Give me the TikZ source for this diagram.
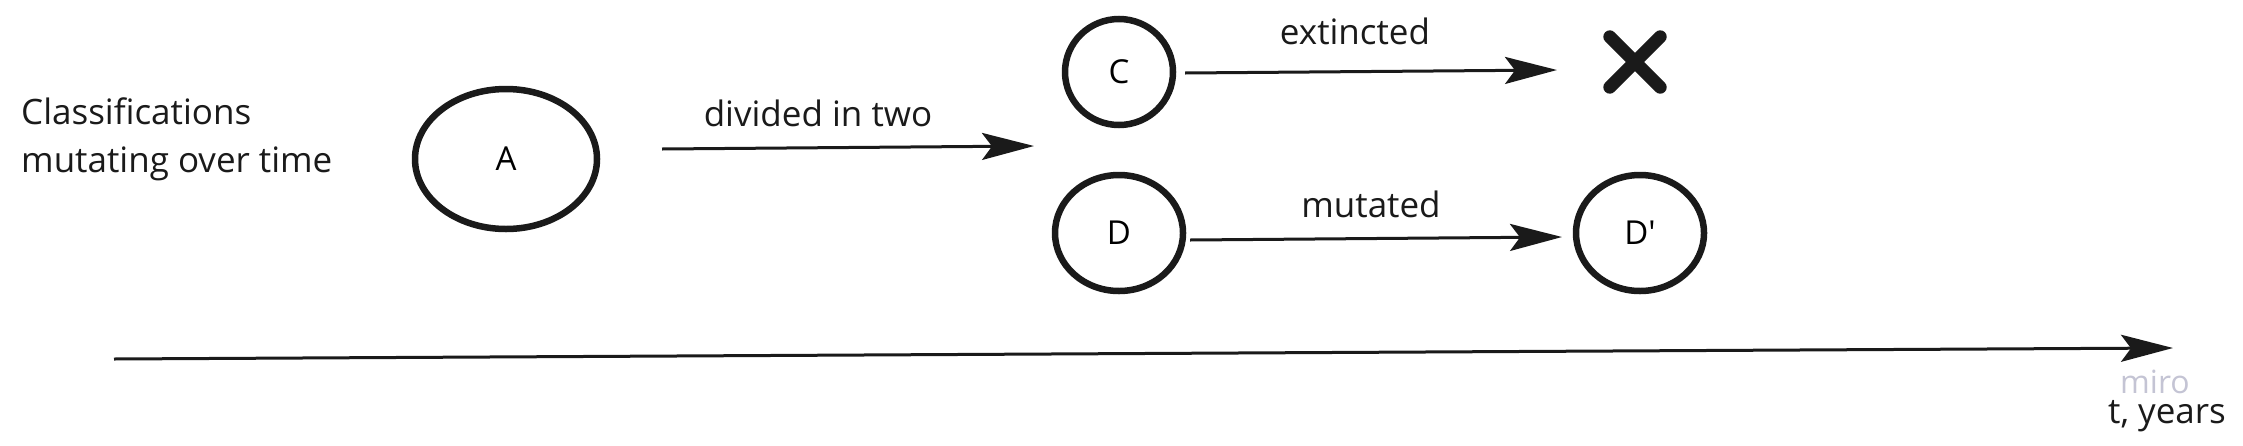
\documentclass[tikz,border=0pt]{standalone}
\usepackage{fontspec}
\setmainfont{Open Sans}
\newfontfamily\rawfont{Open Sans}
\usetikzlibrary{shapes.geometric,arrows.meta}
\definecolor{ink}{HTML}{1A1A1A}
\definecolor{miro}{HTML}{C4C4D4}
\tikzset{
  blob/.style={ellipse,draw=ink,line width=6.5pt,inner sep=0pt,font=\fontsize{33}{38}\selectfont},
  conn/.style={draw=ink,line width=3pt,-{Stealth[length=52pt,width=27pt,inset=10pt]}},
  lbl/.style={font=\fontsize{35}{48}\selectfont,text=ink,inner sep=0pt},
  cross/.style={draw=ink,line width=13pt,line cap=round}
}
\begin{document}
\begin{tikzpicture}[x=1pt,y=-1pt]
\useasboundingbox (0,0) rectangle (2243,445);
\node[lbl,anchor=west,align=left] (title) at (21,139) {Classifications\\mutating over time};
\node[blob,minimum width=182pt,minimum height=140pt] (A) at (506,159) {A};
\node[blob,minimum width=108pt,minimum height=106pt] (C) at (1119,72) {C};
\node[blob,minimum width=128pt,minimum height=116pt] (D) at (1119,233) {D};
\node[blob,minimum width=128pt,minimum height=116pt] (Dp) at (1640,233) {\rawfont D'};
\node[inner sep=0pt,minimum size=50pt] (X) at (1635,62) {};
\draw[cross] (X.north west) -- (X.south east);
\draw[cross] (X.north east) -- (X.south west);
\coordinate (a1) at (662,149);
\coordinate (a2) at (1034,146);
\coordinate (c1) at (1185,73);
\coordinate (c2) at (1557,70);
\coordinate (d1) at (1190,240);
\coordinate (d2) at (1562,237);
\coordinate (t1) at (114,359);
\coordinate (t2) at (2173,348);
\draw[conn] (a1) -- (a2);
\draw[conn] (c1) -- (c2);
\draw[conn] (d1) -- (d2);
\draw[conn] (t1) -- (t2);
\node[lbl] (ldiv) at (818,113) {divided in two};
\node[lbl] (lext) at (1355,31) {extincted};
\node[lbl] (lmut) at (1371,204) {mutated};
\node[font=\fontsize{32}{34}\selectfont,text=miro,inner sep=0pt,text depth=0pt,anchor=base] (wm) at (2155,393) {miro};
\node[lbl,text height=24pt,anchor=north] (ty) at (2167,399) {t, years};
\end{tikzpicture}
\end{document}
